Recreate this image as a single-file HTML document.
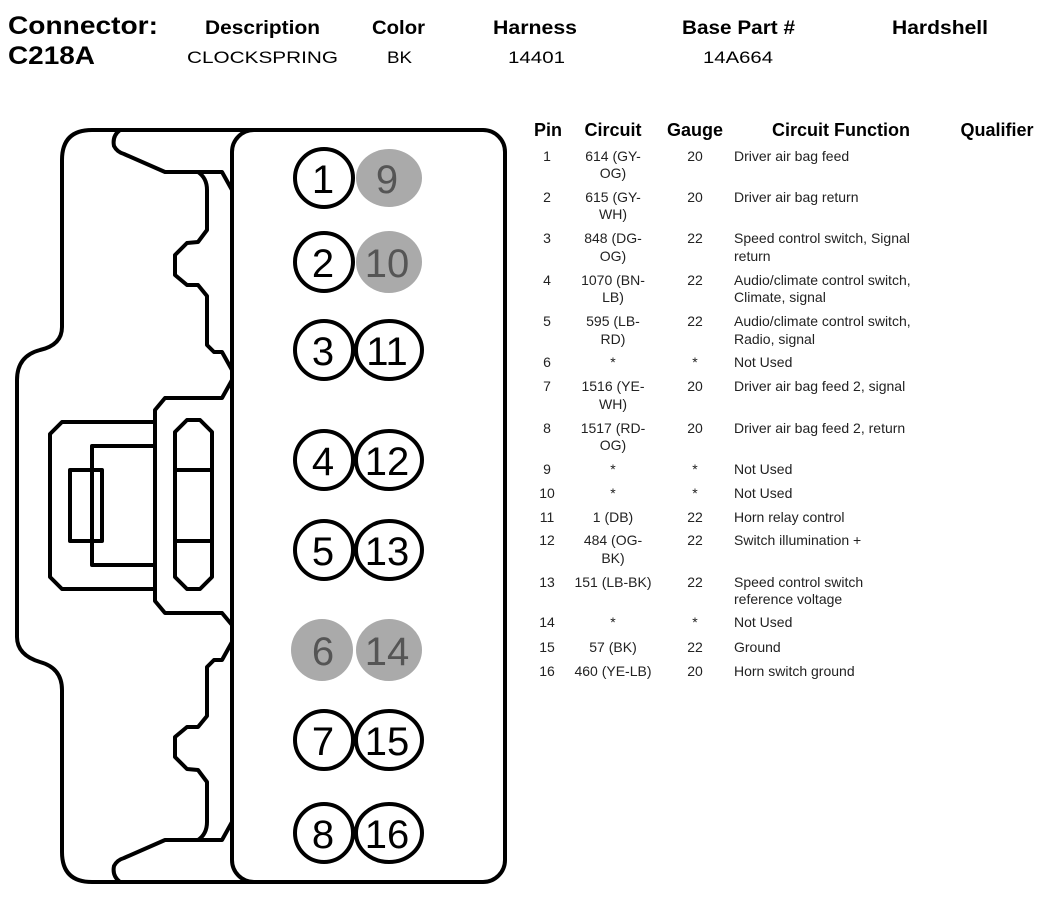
<!DOCTYPE html>
<html><head><meta charset="utf-8"><style>
html,body{margin:0;padding:0;background:#fff;width:1054px;height:898px;overflow:hidden}
svg{display:block}
text{font-family:"Liberation Sans",Arial,sans-serif}
.h{font-weight:bold;font-size:19px}
.v{font-size:17px}
.th{font-weight:bold;font-size:18px}
.t{font-size:14px;fill:#222}
.c{text-anchor:middle}
.pn{font-size:40px;text-anchor:middle}
</style></head><body>
<svg width="1054" height="898" viewBox="0 0 1054 898" xmlns="http://www.w3.org/2000/svg">
<text x="8" y="34" class="h" style="font-size:25px" textLength="150" lengthAdjust="spacingAndGlyphs">Connector:</text>
<text x="8" y="64" class="h" style="font-size:25px" textLength="87" lengthAdjust="spacingAndGlyphs">C218A</text>
<text x="205" y="34" class="h" textLength="115" lengthAdjust="spacingAndGlyphs">Description</text>
<text x="372" y="34" class="h" textLength="53" lengthAdjust="spacingAndGlyphs">Color</text>
<text x="493" y="34" class="h" textLength="84" lengthAdjust="spacingAndGlyphs">Harness</text>
<text x="682" y="34" class="h" textLength="113" lengthAdjust="spacingAndGlyphs">Base Part #</text>
<text x="892" y="34" class="h" textLength="96" lengthAdjust="spacingAndGlyphs">Hardshell</text>
<text x="187" y="63" class="v" textLength="151" lengthAdjust="spacingAndGlyphs">CLOCKSPRING</text>
<text x="387" y="63" class="v" textLength="25" lengthAdjust="spacingAndGlyphs">BK</text>
<text x="508" y="63" class="v" textLength="57" lengthAdjust="spacingAndGlyphs">14401</text>
<text x="703" y="63" class="v" textLength="70" lengthAdjust="spacingAndGlyphs">14A664</text>

<g fill="none" stroke="#000" stroke-width="4" stroke-linejoin="round">
<!-- outer body -->
<path d="M255,130 L92,130 Q62,130 62,160 L62,327 Q62,345 40,350 Q17,356 17,380 L17,637 Q17,655 40,662 Q62,668 62,690 L62,852 Q62,882 92,882 L255,882"/>
<!-- top notch -->
<path d="M120,130 Q112,136 114,146 Q117,152 124,154 L165,172 L222,172 L232,190"/>
<path d="M198,172 Q207,178 207,190 L207,230 L198,242 L187,243 L175,255 L175,275 L187,285 L198,285 L207,296 L207,345 L214,352 L222,352 L232,370"/>
<!-- bottom notch -->
<path d="M120,882 Q112,876 114,866 Q117,860 124,858 L165,840 L222,840 L232,822"/>
<path d="M198,840 Q207,834 207,822 L207,782 L198,770 L187,769 L175,757 L175,737 L187,727 L198,727 L207,716 L207,667 L214,660 L222,660 L232,642"/>
<!-- inner box -->
<path d="M232,380 L222,398 L165,398 L155,410 L155,601 L165,613 L222,613 L232,625"/>
<path d="M155,422 L62,422 L50,434 L50,577 L62,589 L155,589"/>
<path d="M155,446 L92,446 L92,565 L155,565"/>
<rect x="70" y="470" width="32" height="71"/>
<path d="M175,432 L187,420 L200,420 L212,432 L212,577 L200,589 L187,589 L175,577 Z"/>
<path d="M175,470 L212,470 M175,541 L212,541"/>
<!-- right panel -->
<rect x="232" y="130" width="273" height="752" rx="22"/>
</g>

<g stroke="#000" stroke-width="4">
<g fill="#aaa" stroke="none">
<ellipse cx="389" cy="178" rx="33" ry="29"/>
<ellipse cx="389" cy="262" rx="33" ry="31"/>
<ellipse cx="322" cy="650" rx="31" ry="31"/>
<ellipse cx="389" cy="650" rx="33" ry="31"/>
</g>
<g fill="#fff">
<ellipse cx="324" cy="178" rx="29" ry="29"/>
<ellipse cx="324" cy="262" rx="29" ry="29"/>
<ellipse cx="324" cy="350" rx="29" ry="29"/>
<ellipse cx="389" cy="350" rx="33" ry="29"/>
<ellipse cx="324" cy="460" rx="29" ry="29"/>
<ellipse cx="389" cy="460" rx="33" ry="29"/>
<ellipse cx="324" cy="550" rx="29" ry="29"/>
<ellipse cx="389" cy="550" rx="33" ry="29"/>
<ellipse cx="324" cy="740" rx="29" ry="29"/>
<ellipse cx="389" cy="740" rx="33" ry="29"/>
<ellipse cx="324" cy="833" rx="29" ry="29"/>
<ellipse cx="389" cy="833" rx="33" ry="29"/>
</g>
</g>
<g class="pn">
<text x="323" y="193">1</text><text x="387" y="193" fill="#555">9</text>
<text x="323" y="277">2</text><text x="387" y="277" fill="#555">10</text>
<text x="323" y="365">3</text><text x="387" y="365">11</text>
<text x="323" y="475">4</text><text x="387" y="475">12</text>
<text x="323" y="565">5</text><text x="387" y="565">13</text>
<text x="323" y="665" fill="#555">6</text><text x="387" y="665" fill="#555">14</text>
<text x="323" y="755">7</text><text x="387" y="755">15</text>
<text x="323" y="848">8</text><text x="387" y="848">16</text>
</g>

<g class="th">
<text x="548" y="136" class="c">Pin</text>
<text x="613" y="136" class="c">Circuit</text>
<text x="695" y="136" class="c">Gauge</text>
<text x="841" y="136" class="c">Circuit Function</text>
<text x="997" y="136" class="c">Qualifier</text>
</g>
<g class="t">
<text x="547" y="161" class="c">1</text><text x="613" y="161" class="c">614 (GY-</text><text x="613" y="178" class="c">OG)</text><text x="695" y="161" class="c">20</text><text x="734" y="161">Driver air bag feed</text>
<text x="547" y="202" class="c">2</text><text x="613" y="202" class="c">615 (GY-</text><text x="613" y="219" class="c">WH)</text><text x="695" y="202" class="c">20</text><text x="734" y="202">Driver air bag return</text>
<text x="547" y="243" class="c">3</text><text x="613" y="243" class="c">848 (DG-</text><text x="613" y="261" class="c">OG)</text><text x="695" y="243" class="c">22</text><text x="734" y="243">Speed control switch, Signal</text><text x="734" y="261">return</text>
<text x="547" y="285" class="c">4</text><text x="613" y="285" class="c">1070 (BN-</text><text x="613" y="302" class="c">LB)</text><text x="695" y="285" class="c">22</text><text x="734" y="285">Audio/climate control switch,</text><text x="734" y="302">Climate, signal</text>
<text x="547" y="326" class="c">5</text><text x="613" y="326" class="c">595 (LB-</text><text x="613" y="344" class="c">RD)</text><text x="695" y="326" class="c">22</text><text x="734" y="326">Audio/climate control switch,</text><text x="734" y="344">Radio, signal</text>
<text x="547" y="367" class="c">6</text><text x="613" y="367" class="c">*</text><text x="695" y="367" class="c">*</text><text x="734" y="367">Not Used</text>
<text x="547" y="391" class="c">7</text><text x="613" y="391" class="c">1516 (YE-</text><text x="613" y="409" class="c">WH)</text><text x="695" y="391" class="c">20</text><text x="734" y="391">Driver air bag feed 2, signal</text>
<text x="547" y="433" class="c">8</text><text x="613" y="433" class="c">1517 (RD-</text><text x="613" y="450" class="c">OG)</text><text x="695" y="433" class="c">20</text><text x="734" y="433">Driver air bag feed 2, return</text>
<text x="547" y="474" class="c">9</text><text x="613" y="474" class="c">*</text><text x="695" y="474" class="c">*</text><text x="734" y="474">Not Used</text>
<text x="547" y="498" class="c">10</text><text x="613" y="498" class="c">*</text><text x="695" y="498" class="c">*</text><text x="734" y="498">Not Used</text>
<text x="547" y="522" class="c">11</text><text x="613" y="522" class="c">1 (DB)</text><text x="695" y="522" class="c">22</text><text x="734" y="522">Horn relay control</text>
<text x="547" y="545" class="c">12</text><text x="613" y="545" class="c">484 (OG-</text><text x="613" y="563" class="c">BK)</text><text x="695" y="545" class="c">22</text><text x="734" y="545">Switch illumination +</text>
<text x="547" y="587" class="c">13</text><text x="613" y="587" class="c">151 (LB-BK)</text><text x="695" y="587" class="c">22</text><text x="734" y="587">Speed control switch</text><text x="734" y="604">reference voltage</text>
<text x="547" y="627" class="c">14</text><text x="613" y="627" class="c">*</text><text x="695" y="627" class="c">*</text><text x="734" y="627">Not Used</text>
<text x="547" y="652" class="c">15</text><text x="613" y="652" class="c">57 (BK)</text><text x="695" y="652" class="c">22</text><text x="734" y="652">Ground</text>
<text x="547" y="676" class="c">16</text><text x="613" y="676" class="c">460 (YE-LB)</text><text x="695" y="676" class="c">20</text><text x="734" y="676">Horn switch ground</text>
</g>
</svg>
</body></html>
